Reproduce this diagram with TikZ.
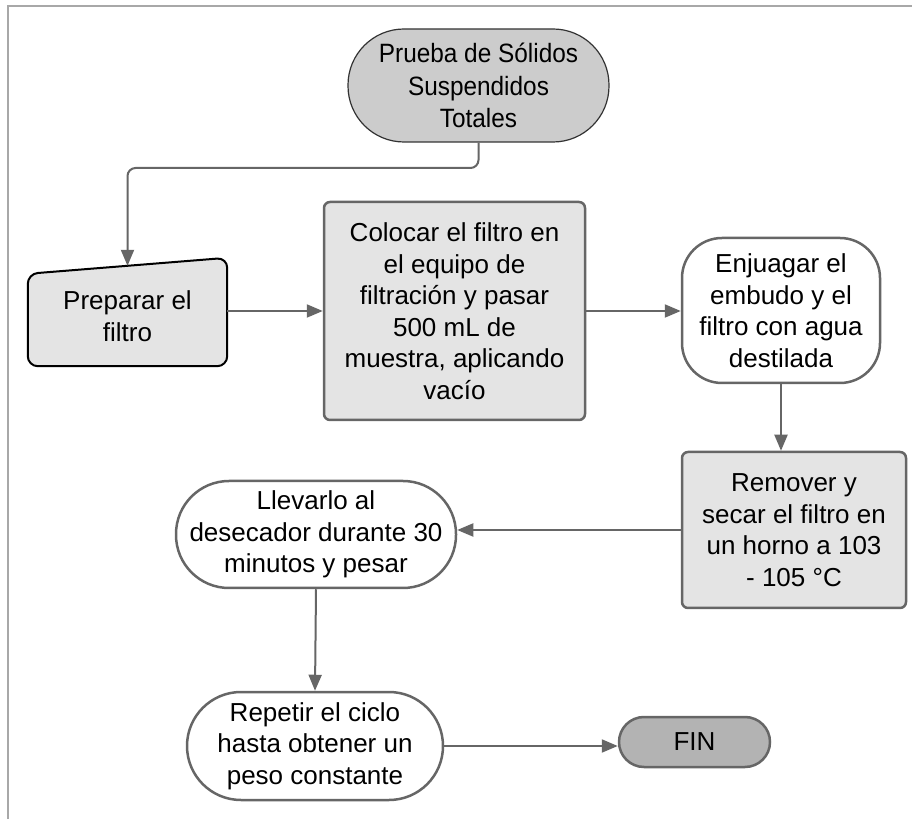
\documentclass[tikz,border=0pt]{standalone}
\usepackage{fontspec}
\setmainfont{Liberation Sans}
\newfontfamily\narrowfont[FakeStretch=0.92]{Liberation Sans}
\usetikzlibrary{arrows.meta, positioning, calc, backgrounds}

\definecolor{linegray}{HTML}{666666}
\definecolor{boxgray}{HTML}{E4E4E4}
\definecolor{startgray}{HTML}{CCCCCC}
\definecolor{fingray}{HTML}{B3B3B3}
\definecolor{framegray}{HTML}{A8A8A8}

\begin{document}
\begin{tikzpicture}[x=1pt, y=1pt,
    every node/.style={align=center, inner sep=0pt, font=\fontsize{26}{31.5}\selectfont},
    flow/.style={draw=linegray, line width=2pt, -{Triangle[length=16pt, width=13pt]}},
    box/.style={draw=linegray, line width=2.5pt, fill=boxgray, rounded corners=6pt},
    pill/.style={draw=linegray, line width=2.5pt, fill=white, rounded corners=#1}]
    \useasboundingbox (0,0) rectangle (912,819);
    \draw[framegray, line width=1.5pt] (8,0) -- (8,813) -- (912,813);

    % nodes
    \node[draw=black!80, line width=1.2pt, fill=startgray, rounded corners=56pt,
          minimum width=261pt, minimum height=113pt,
          font=\narrowfont\fontsize{26.5}{32.5}\selectfont] (start) at (478.5,733.5)
          {Prueba de Sólidos\\Suspendidos\\Totales};
    \node[minimum width=199pt, minimum height=100pt] (prep) at (127.5,503)
          {Preparar el\\filtro};
    \node[box, minimum width=261pt, minimum height=218pt] (col) at (454.5,508)
          {Colocar el filtro en\\el equipo de\\filtración y pasar\\500 mL de\\muestra, aplicando\\vacío};
    \node[pill=40pt, minimum width=198pt, minimum height=145pt] (enj) at (781,508.5)
          {Enjuagar el\\embudo y el\\filtro con agua\\destilada};
    \node[box, minimum width=224pt, minimum height=156pt] (rem) at (794,289)
          {Remover y\\secar el filtro en\\un horno a 103\\- 105 °C};
    \node[pill=53pt, minimum width=280pt, minimum height=107pt] (lle) at (316,284.5)
          {Llevarlo al\\desecador durante 30\\minutos y pesar};
    \node[pill=54pt, minimum width=256pt, minimum height=108pt] (rep) at (315,73)
          {Repetir el ciclo\\hasta obtener un\\peso constante};
    \node[pill=25pt, fill=fingray, minimum width=151pt, minimum height=50pt] (fin) at (694.5,77)
          {FIN};

    % manual input shape behind the text
    \begin{scope}[on background layer]
      \draw[black, line width=2pt, fill=boxgray, rounded corners=10pt]
        (prep.south west) -- ($(prep.north west)+(0,-8)$)
        -- ($(prep.north east)+(0,8)$) -- (prep.south east) -- cycle;
    \end{scope}

    % connectors
    \coordinate (turn) at (127.5,651);
    \draw[flow, rounded corners=8pt] (start.south) |- (turn) -- (prep.north);
    \draw[flow] (prep.east |- col.west) -- (col.west);
    \draw[flow] (col.east) -- (col.east -| enj.west);
    \draw[flow] (enj.south) -- (enj.south |- rem.north);
    \draw[flow] (rem.west) -- (rem.west -| lle.east);
    \draw[flow] (lle.south) -- (rep.north);
    \draw[flow] (rep.east) -- (rep.east -| fin.west);
\end{tikzpicture}
\end{document}
